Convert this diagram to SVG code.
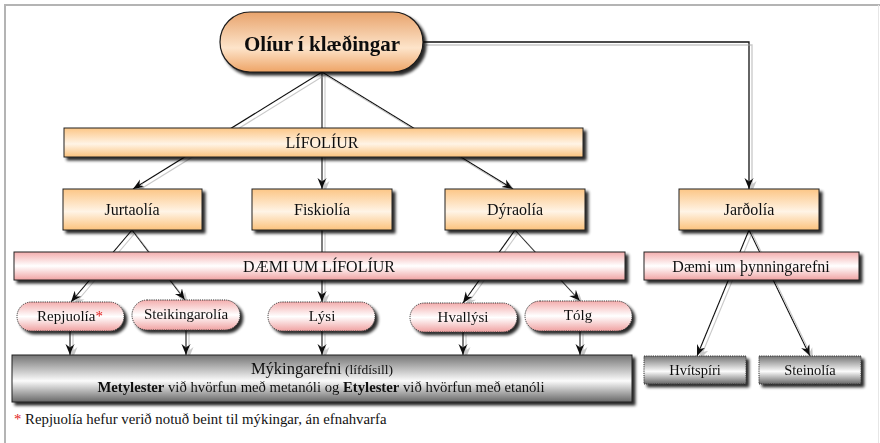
<svg xmlns="http://www.w3.org/2000/svg" width="880" height="443" viewBox="0 0 880 443" font-family="'Liberation Serif', 'Times New Roman', 'DejaVu Serif', serif">
<defs>
<style>
text{font-family:'Liberation Serif','Times New Roman','DejaVu Serif',serif;fill:#111;text-anchor:middle}
.t16{font-size:16px}
.t15{font-size:15px}
.t14{font-size:14.5px}
.orange{fill:url(#gOrange);stroke:#222;stroke-width:1}
.pink{fill:url(#gPink);stroke:#222;stroke-width:1}
.pinkp{fill:url(#gPink);stroke:#333;stroke-width:1;stroke-dasharray:1.2 1}
.gray{fill:url(#gGray);stroke:#222;stroke-width:1}
.grayd{fill:url(#gGray);stroke:#333;stroke-width:1;stroke-dasharray:1.2 1}
.conn path{fill:none;stroke:#111;stroke-width:1.1}
</style>
<linearGradient id="gTop" x1="0" y1="0" x2="0" y2="1">
<stop offset="0" stop-color="#e8a36c"/>
<stop offset="0.6" stop-color="#fde4ca"/>
<stop offset="1" stop-color="#eea466"/>
</linearGradient>
<linearGradient id="gOrange" x1="0" y1="0" x2="0" y2="1">
<stop offset="0" stop-color="#fcc686"/>
<stop offset="0.55" stop-color="#fff4e6"/>
<stop offset="1" stop-color="#fbc27c"/>
</linearGradient>
<linearGradient id="gPink" x1="0" y1="0" x2="0" y2="1">
<stop offset="0" stop-color="#f3adad"/>
<stop offset="0.5" stop-color="#ffffff"/>
<stop offset="1" stop-color="#f0a2a2"/>
</linearGradient>
<linearGradient id="gGray" x1="0" y1="0" x2="0" y2="1">
<stop offset="0" stop-color="#747474"/>
<stop offset="0.55" stop-color="#fbfbfb"/>
<stop offset="1" stop-color="#686868"/>
</linearGradient>
<filter id="sh" x="-10%" y="-20%" width="130%" height="160%">
<feGaussianBlur in="SourceAlpha" stdDeviation="1.5"/>
<feOffset dx="3" dy="3" result="o"/>
<feComponentTransfer><feFuncA type="linear" slope="0.85"/></feComponentTransfer>
<feMerge><feMergeNode/><feMergeNode in="SourceGraphic"/></feMerge>
</filter>
<filter id="csh" x="-10%" y="-10%" width="130%" height="130%">
<feOffset in="SourceAlpha" dx="3" dy="3" result="o"/>
<feFlood flood-color="#c8c8c8"/>
<feComposite in2="o" operator="in"/>
<feGaussianBlur stdDeviation="0.7"/>
<feMerge><feMergeNode/><feMergeNode in="SourceGraphic"/></feMerge>
</filter>
<marker id="arr" markerUnits="userSpaceOnUse" markerWidth="11" markerHeight="10" refX="11" refY="5" orient="auto">
<path d="M0,0.5 L11,5 L0,9.5 L3.5,5 Z" fill="#111"/>
</marker>
</defs>
<rect width="880" height="443" fill="#fff"/>
<g id="frame" fill="none">
<path d="M5,443 V5 H880" stroke="#b4b4b4" stroke-width="2"/>
<path d="M878.5,5 V443" stroke="#e6e6e6" stroke-width="1"/>
</g>
<g id="connectors" class="conn" filter="url(#csh)">
<path d="M322,72 L133,189" marker-end="url(#arr)"/>
<path d="M322,72 L322,189" marker-end="url(#arr)"/>
<path d="M322,72 L513,189" marker-end="url(#arr)"/>
<path d="M423,42 H749 V189" marker-end="url(#arr)" style="stroke-width:1.3"/>
<path d="M132,230 L71,302" marker-end="url(#arr)"/>
<path d="M132,230 L185,300" marker-end="url(#arr)"/>
<path d="M322,230 L322,302" marker-end="url(#arr)"/>
<path d="M515,230 L463,303" marker-end="url(#arr)"/>
<path d="M515,230 L580,301" marker-end="url(#arr)"/>
<path d="M749,230 L697,356" marker-end="url(#arr)"/>
<path d="M749,230 L810,356" marker-end="url(#arr)"/>
<path d="M70,331 V355" marker-end="url(#arr)"/>
<path d="M186,330 V355" marker-end="url(#arr)"/>
<path d="M322,331 V355" marker-end="url(#arr)"/>
<path d="M463,332 V355" marker-end="url(#arr)"/>
<path d="M580,331 V355" marker-end="url(#arr)"/>
</g>
<g id="n-oliur" filter="url(#sh)">
<rect x="220" y="12" width="203" height="60" rx="30" fill="url(#gTop)" stroke="#1a1a1a" stroke-width="1.2"/>
<text x="322" y="51" style="font-size:21px;font-weight:bold">Olíur í klæðingar</text>
</g>
<g id="n-lifoliur" filter="url(#sh)">
<rect class="orange" x="64" y="128" width="519" height="29"/>
<text class="t16" x="322" y="148">LÍFOLÍUR</text>
</g>
<g id="n-jurtaolia" filter="url(#sh)">
<rect class="orange" x="63" y="189" width="139" height="41"/>
<text class="t16" x="132" y="215">Jurtaolía</text>
</g>
<g id="n-fiskiolia" filter="url(#sh)">
<rect class="orange" x="252" y="189" width="140" height="41"/>
<text class="t16" x="322" y="215">Fiskiolía</text>
</g>
<g id="n-dyraolia" filter="url(#sh)">
<rect class="orange" x="445" y="189" width="140" height="41"/>
<text class="t16" x="515" y="215">Dýraolía</text>
</g>
<g id="n-jardolia" filter="url(#sh)">
<rect class="orange" x="679" y="189" width="140" height="41"/>
<text class="t16" x="749" y="215">Jarðolía</text>
</g>
<g id="n-daemi-lif" filter="url(#sh)">
<rect class="pink" x="14" y="252" width="611" height="28"/>
<text class="t16" x="319" y="272">DÆMI UM LÍFOLÍUR</text>
</g>
<g id="n-daemi-thyn" filter="url(#sh)">
<rect class="pink" x="644" y="252" width="215" height="28"/>
<text class="t16" x="751" y="272">Dæmi um þynningarefni</text>
</g>
<g id="n-repjuolia" filter="url(#sh)">
<rect class="pinkp" x="17" y="302" width="107" height="29" rx="14.5"/>
<text class="t15" x="70" y="321">Repjuolía<tspan fill="#e21b1b">*</tspan></text>
</g>
<g id="n-steikingarolia" filter="url(#sh)">
<rect class="pinkp" x="132" y="300" width="108" height="30" rx="15"/>
<text class="t15" x="186" y="319">Steikingarolía</text>
</g>
<g id="n-lysi" filter="url(#sh)">
<rect class="pinkp" x="268" y="302" width="107" height="29" rx="14.5"/>
<text class="t15" x="322" y="321">Lýsi</text>
</g>
<g id="n-hvallysi" filter="url(#sh)">
<rect class="pinkp" x="410" y="303" width="107" height="29" rx="14.5"/>
<text class="t15" x="463" y="322">Hvallýsi</text>
</g>
<g id="n-tolg" filter="url(#sh)">
<rect class="pinkp" x="525" y="301" width="107" height="30" rx="15"/>
<text class="t15" x="578" y="320">Tólg</text>
</g>
<g id="n-mykingarefni" filter="url(#sh)">
<rect class="gray" x="12" y="355" width="620" height="47"/>
<text x="322" y="374"><tspan style="font-size:16.5px">Mýkingarefni</tspan><tspan style="font-size:13.5px"> (lífdísill)</tspan></text>
<text x="321" y="392" style="font-size:14.7px"><tspan font-weight="bold">Metylester</tspan> við hvörfun með metanóli og <tspan font-weight="bold">Etylester</tspan> við hvörfun með etanóli</text>
</g>
<g id="n-hvitspiri" filter="url(#sh)">
<rect class="grayd" x="644" y="356" width="102" height="28"/>
<text class="t14" x="695" y="375">Hvítspíri</text>
</g>
<g id="n-steinolia" filter="url(#sh)">
<rect class="grayd" x="759" y="356" width="102" height="28"/>
<text class="t14" x="810" y="375">Steinolía</text>
</g>
<g id="footnote">
<text x="14" y="424" style="font-size:14.8px;text-anchor:start"><tspan fill="#e21b1b">*</tspan> Repjuolía hefur verið notuð beint til mýkingar, án efnahvarfa</text>
</g>
</svg>
